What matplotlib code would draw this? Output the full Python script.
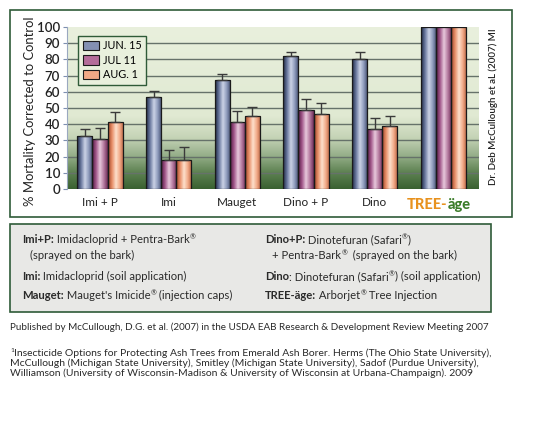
import numpy as np
import matplotlib.pyplot as plt
from matplotlib.colors import LinearSegmentedColormap
from matplotlib.patches import Rectangle, Patch

plt.rcParams['font.family'] = ['Lato', 'DejaVu Sans']

groups = ['Imi + P', 'Imi', 'Mauget', 'Dino + P', 'Dino', 'TREE-äge']
series = ['JUN. 15', 'JUL 11', 'AUG. 1']
jun = [32.5, 56.5, 67, 82, 80.5, 100]
jul = [30.7, 18.2, 41.6, 49, 37, 100]
aug = [41.2, 18.2, 44.9, 46, 39, 100]
jun_err = [4.5, 4.2, 3.8, 2.7, 3.8, 0]
jul_err = [6.7, 5.8, 6.8, 6.7, 6.8, 0]
aug_err = [6.5, 7.9, 5.5, 7, 6.2, 0]
yticks = list(range(0, 101, 10))

W, H = 546, 421
fig = plt.figure(figsize=(W / 100, H / 100), dpi=100)

def fx(px):
    return px / W

def fy(py):
    return 1 - py / H

# outer chart frame
fig.patches.append(Rectangle((fx(10), fy(217)), fx(502), 207 / H, transform=fig.transFigure,
                             fill=False, edgecolor='#2f5b38', lw=1.2))
# legend description box
fig.patches.append(Rectangle((fx(10), fy(312)), fx(481), 88 / H, transform=fig.transFigure,
                             facecolor='#e8e8e6', edgecolor='#2f5b38', lw=1.2))

ax = fig.add_axes([fx(67), fy(189), fx(412), 162 / H])
x = np.arange(len(groups))
bw = 0.22
xmin, xmax = -0.48, 5.52

# background gradient
bg = LinearSegmentedColormap.from_list('bg', [(0, '#3a6131'), (0.1, '#5d8151'), (0.2, '#93ad87'),
                                              (0.32, '#c6d4b7'), (0.45, '#e0e9d2'), (1, '#e9f0dd')])
ax.imshow(np.linspace(0, 1, 256).reshape(-1, 1), extent=[xmin, xmax, 0, 100], origin='lower',
          aspect='auto', cmap=bg, zorder=0)

for yv in yticks[1:-1]:
    ax.axhline(yv, color='#66726a', lw=1, zorder=1)

cmaps = [
    ['#1f2a45', '#6a789e', '#ccd3e6', '#8d99ba', '#3e4a6c'],
    ['#521a40', '#a1568a', '#e8c9dc', '#b57a9f', '#6e2d58'],
    ['#9c4628', '#e88e68', '#fde0cc', '#f1aa88', '#b8603e'],
]
legend_cols = ['#8390b2', '#b46c9a', '#f2a886']
vals = [jun, jul, aug]
errs = [jun_err, jul_err, aug_err]
grad = np.linspace(0, 1, 64).reshape(1, -1)
for i in range(3):
    xs = x + (i - 1) * bw
    bars = ax.bar(xs, vals[i], bw, color='none', edgecolor='#1a1a1a', lw=0.9, zorder=3)
    cm = LinearSegmentedColormap.from_list('c%d' % i, cmaps[i])
    for b in bars:
        im = ax.imshow(grad, extent=[b.get_x(), b.get_x() + b.get_width(), 0, b.get_height()],
                       aspect='auto', cmap=cm, zorder=2)
        im.set_clip_path(b)
    e = np.array(errs[i])
    m = e > 0
    ax.errorbar(xs[m], np.array(vals[i])[m], yerr=[np.zeros(m.sum()), e[m]], fmt='none',
                ecolor='#3a3a3a', elinewidth=1, capsize=3.5, capthick=1, zorder=4)

ax.set_xlim(xmin, xmax)
ax.set_ylim(0, 100)
for s in ['top', 'right', 'bottom']:
    ax.spines[s].set_visible(False)
ax.spines['left'].set_color('#9aa8c0')
ax.set_yticks(yticks)
ax.tick_params(axis='y', length=3, color='#7d8fb0', labelsize=9.5, labelcolor='#222222', pad=2)
for t in ax.get_yticklabels():
    t.set_fontweight('semibold')
ax.set_xticks(x)
ax.set_xticklabels(groups[:-1] + [''], fontsize=8.5, color='#222222')
ax.tick_params(axis='x', length=0, pad=6)

t1 = ax.annotate('TREE-', xy=(x[-1], 0), xycoords=('data', 'axes fraction'), xytext=(3, -6.5),
                 textcoords='offset points', ha='right', va='top', fontsize=10.5, fontweight='black',
                 color='#e8921e')
ax.annotate('äge', xy=(1, 0), xycoords=t1, va='bottom', ha='left', fontsize=10.5,
            fontweight='black', color='#3d7d2b')

handles = [Patch(facecolor=c, edgecolor='#1a1a1a', lw=0.8) for c in legend_cols]
leg = ax.legend(handles, series, loc='upper left', bbox_to_anchor=(0.014, 0.978), fontsize=7.8,
                frameon=True, fancybox=False, handlelength=1.5, handleheight=0.95,
                handletextpad=0.35, borderpad=0.4, labelspacing=0.32)
leg.get_frame().set_edgecolor('#2f5b38')
leg.get_frame().set_facecolor('#e9f0dd')
leg.get_frame().set_alpha(1)
leg.get_frame().set_linewidth(1)

fig.text(fx(30), fy(111), '% Mortality Corrected to Control', rotation=90, ha='center',
         va='center', fontsize=9.4, color='#222222')
fig.text(fx(493), fy(107), 'Dr. Deb McCullough et aL (2007) MI', rotation=90, ha='center',
         va='center', fontsize=7, color='#222222', fontweight='semibold')

renderer = fig.canvas.get_renderer()

def rich(px, py, parts, size=8.1):
    for s, w, sup in parts:
        sz = size * 0.62 if sup else size
        yy = py - 3.5 if sup else py
        t = fig.text(fx(px), fy(yy), s, fontsize=sz, fontweight=w, color='#2a2a2a',
                     va='baseline', ha='left')
        px += t.get_window_extent(renderer).width

rich(22, 243, [('Imi+P:', 'bold', False), (' Imidacloprid + Pentra-Bark', 'normal', False),
               ('®', 'normal', True)])
rich(30, 259, [('(sprayed on the bark)', 'normal', False)])
rich(22, 280, [('Imi:', 'bold', False), (' Imidacloprid (soil application)', 'normal', False)])
rich(22, 299, [('Mauget:', 'bold', False), (" Mauget's Imicide", 'normal', False),
               ('®', 'normal', True), (' (injection caps)', 'normal', False)])
rich(265, 243, [('Dino+P:', 'bold', False), (' Dinotefuran (Safari', 'normal', False),
                ('®', 'normal', True), (')', 'normal', False)])
rich(272, 259, [('+ Pentra-Bark', 'normal', False), ('®', 'normal', True),
                ('  (sprayed on the bark)', 'normal', False)])
rich(265, 280, [('Dino', 'bold', False), (': Dinotefuran (Safari', 'normal', False),
                ('®', 'normal', True), (') (soil application)', 'normal', False)])
rich(265, 299, [('TREE-äge:', 'bold', False), (' Arborjet', 'normal', False),
                ('®', 'normal', True), (' Tree Injection', 'normal', False)])

fig.text(fx(10), fy(330), 'Published by McCullough, D.G. et al. (2007) in the USDA EAB Research '
         '& Development Review Meeting 2007', fontsize=7.1, color='#2a2a2a', va='baseline')
rich(10, 355.5, [('1', 'normal', True), ('Insecticide Options for Protecting Ash Trees from Emerald '
                 'Ash Borer. Herms (The Ohio State University),', 'normal', False)], size=7.5)
fig.text(fx(10), fy(366), 'McCullough (Michigan State University), Smitley (Michigan State '
         'University), Sadof (Purdue University),', fontsize=7.5, color='#2a2a2a', va='baseline')
fig.text(fx(10), fy(376.5), 'Williamson (University of Wisconsin-Madison & University of Wisconsin '
         'at Urbana-Champaign). 2009', fontsize=7.5, color='#2a2a2a', va='baseline')

fig.savefig('out.png', dpi=100)
